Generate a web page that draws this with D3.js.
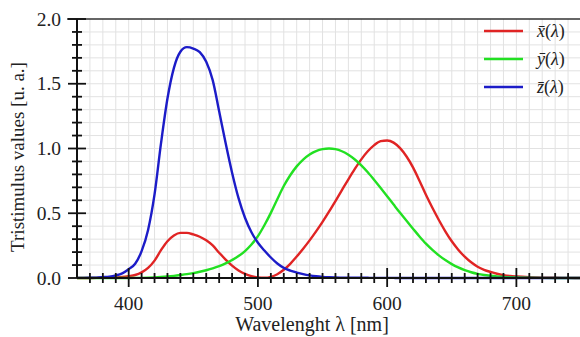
<!DOCTYPE html>
<html lang="en">
<head>
<meta charset="UTF-8">
<title>CIE 1931 colour matching functions</title>
<script src="https://d3js.org/d3.v7.min.js"></script>
<style>
  body { margin: 0; background: #fff; }
  text { font-family: "Liberation Serif", "DejaVu Serif", serif; fill: #222; }
</style>
</head>
<body>
<div id="chart"></div>
<script>
// wavelengths (nm) and the three tristimulus curves
var wavelength = [360,365,370,375,380,385,390,395,400,405,410,415,420,425,430,435,440,445,450,455,
  460,465,470,475,480,485,490,495,500,505,510,515,520,525,530,535,540,545,550,555,
  560,565,570,575,580,585,590,595,600,605,610,615,620,625,630,635,640,645,650,655,
  660,665,670,675,680,685,690,695,700,710,720,730,740,750];
var xBar = [0.0001,0.0002,0.0004,0.0007,0.0014,0.0022,0.0042,0.0076,0.0143,0.0232,0.0435,0.0776,0.1344,0.2148,0.2839,0.3285,0.3483,0.3481,0.3362,0.3187,
  0.2908,0.2511,0.1954,0.1421,0.0956,0.0580,0.0320,0.0147,0.0049,0.0024,0.0093,0.0291,0.0633,0.1096,0.1655,0.2257,0.2904,0.3597,0.4334,0.5121,
  0.5945,0.6784,0.7621,0.8425,0.9163,0.9786,1.0263,1.0567,1.0622,1.0456,1.0026,0.9384,0.8545,0.7514,0.6424,0.5419,0.4479,0.3608,0.2835,0.2187,
  0.1649,0.1212,0.0874,0.0636,0.0468,0.0329,0.0227,0.0158,0.0114,0.0058,0.0029,0.0014,0.0007,0.0003];
var yBar = [0,0,0,0,0,0.0001,0.0001,0.0002,0.0004,0.0006,0.0012,0.0022,0.0040,0.0073,0.0116,0.0168,0.0230,0.0298,0.0380,0.0480,
  0.0600,0.0739,0.0910,0.1126,0.1390,0.1693,0.2080,0.2586,0.3230,0.4073,0.5030,0.6082,0.7100,0.7932,0.8620,0.9149,0.9540,0.9803,0.9950,1.0000,
  0.9950,0.9786,0.9520,0.9154,0.8700,0.8163,0.7570,0.6949,0.6310,0.5668,0.5030,0.4412,0.3810,0.3210,0.2650,0.2170,0.1750,0.1382,0.1070,0.0816,
  0.0610,0.0446,0.0320,0.0232,0.0170,0.0119,0.0082,0.0057,0.0041,0.0021,0.0010,0.0005,0.0002,0.0001];
var zBar = [0.0006,0.0011,0.0019,0.0032,0.0065,0.0105,0.0201,0.0362,0.0679,0.1102,0.2074,0.3713,0.6456,1.0391,1.3856,1.6230,1.7471,1.7826,1.7721,1.7441,
  1.6692,1.5281,1.2876,1.0419,0.8130,0.6162,0.4652,0.3533,0.2720,0.2123,0.1582,0.1117,0.0783,0.0573,0.0422,0.0298,0.0203,0.0134,0.0088,0.0058,
  0.0039,0.0027,0.0021,0.0018,0.0017,0.0014,0.0011,0.0010,0.0008,0.0006,0.0003,0.0002,0.0002,0.0001,0.0001,0,0,0,0,0,
  0,0,0,0,0,0,0,0,0,0,0,0,0,0];

var seriesNames = ["x", "y", "z"];
var seriesColors = ["#e02424", "#22e022", "#1c1cc8"];
var xTicks = [400, 500, 600, 700];
var yTicks = [0, 0.5, 1.0, 1.5, 2.0];

var width = 580, height = 337;
var margin = {top: 19, right: -1, bottom: 59, left: 77};

var svg = d3.select("#chart").append("svg")
  .attr("width", width)
  .attr("height", height);

var x = d3.scaleLinear()
  .domain([360, 750])
  .range([margin.left, width - margin.right]);
var y = d3.scaleLinear()
  .domain([0, 2])
  .range([height - margin.bottom, margin.top]);

// light grid, every 10 nm and every 0.1
var grid = svg.append("g");
grid.selectAll("line.v")
  .data(d3.range(370, 751, 10))
  .enter().append("line")
    .attr("x1", function(d) { return x(d); })
    .attr("x2", function(d) { return x(d); })
    .attr("y1", y(2))
    .attr("y2", y(0))
    .style("stroke", "#e2e2e2")
    .style("stroke-width", 1);
grid.selectAll("line.h")
  .data(d3.range(1, 20))
  .enter().append("line")
    .attr("x1", x(360))
    .attr("x2", width)
    .attr("y1", function(d) { return y(d / 10); })
    .attr("y2", function(d) { return y(d / 10); })
    .style("stroke", "#e2e2e2")
    .style("stroke-width", 1);

// top frame line
svg.append("line")
  .attr("x1", x(360) - 10).attr("x2", width)
  .attr("y1", y(2)).attr("y2", y(2))
  .style("stroke", "#333").style("stroke-width", 1.6);

// curves
var line = d3.line()
  .x(function(d) { return x(d[0]); })
  .y(function(d) { return y(d[1]); })
  .curve(d3.curveMonotoneX);

[xBar, yBar, zBar].forEach(function(vals, i) {
  svg.append("path")
    .datum(wavelength.map(function(w, j) { return [w, vals[j]]; }))
    .attr("d", line)
    .style("fill", "none")
    .style("stroke", seriesColors[i])
    .style("stroke-width", 2.4);
});

// y axis: line, crossing ticks, labels
var yAxis = svg.append("g");
yAxis.append("line")
  .attr("x1", x(360)).attr("x2", x(360))
  .attr("y1", y(2)).attr("y2", y(0))
  .style("stroke", "#111").style("stroke-width", 2);
yAxis.selectAll("line.minor")
  .data(d3.range(0, 21))
  .enter().append("line")
    .attr("x1", function(d) { return x(360) - (d % 5 === 0 ? 9 : 5); })
    .attr("x2", function(d) { return x(360) + (d % 5 === 0 ? 9 : 5); })
    .attr("y1", function(d) { return y(d / 10); })
    .attr("y2", function(d) { return y(d / 10); })
    .style("stroke", "#111").style("stroke-width", 1.8);
yAxis.selectAll("text")
  .data(yTicks)
  .enter().append("text")
    .attr("x", x(360) - 16)
    .attr("y", function(d) { return y(d) + 6.5; })
    .attr("text-anchor", "end")
    .style("font-size", "19.5px")
    .text(function(d) { return d3.format(".1f")(d); });

// x axis
var xAxis = svg.append("g");
xAxis.append("line")
  .attr("x1", x(360)).attr("x2", width)
  .attr("y1", y(0)).attr("y2", y(0))
  .style("stroke", "#111").style("stroke-width", 2);
xAxis.selectAll("line.tick")
  .data(d3.range(370, 751, 10))
  .enter().append("line")
    .attr("x1", function(d) { return x(d); })
    .attr("x2", function(d) { return x(d); })
    .attr("y1", function(d) { return y(0) - (d % 100 === 0 ? 10 : 5); })
    .attr("y2", function(d) { return y(0) + (d % 100 === 0 ? 9 : 5); })
    .style("stroke", "#111").style("stroke-width", 1.8);
xAxis.selectAll("text")
  .data(xTicks)
  .enter().append("text")
    .attr("x", function(d) { return x(d); })
    .attr("y", y(0) + 32)
    .attr("text-anchor", "middle")
    .style("font-size", "19.5px")
    .text(function(d) { return d; });

// axis titles
svg.append("text")
  .attr("x", 312)
  .attr("y", 331)
  .attr("text-anchor", "middle")
  .style("font-size", "20px")
  .text("Wavelenght \u03bb [nm]");
svg.append("text")
  .attr("transform", "translate(24,157) rotate(-90)")
  .attr("text-anchor", "middle")
  .style("font-size", "19px")
  .text("Tristimulus values [u. a.]");

// legend
var legend = svg.append("g");
seriesNames.forEach(function(name, i) {
  var ly = 31 + i * 28;
  legend.append("line")
    .attr("x1", 484).attr("x2", 523)
    .attr("y1", ly).attr("y2", ly)
    .style("stroke", seriesColors[i]).style("stroke-width", 2.4);
  var t = legend.append("text")
    .attr("x", 537)
    .attr("y", ly + 6)
    .style("font-size", "18px");
  t.append("tspan").style("font-style", "italic").text(name + "\u0304");
  t.append("tspan").text("(");
  t.append("tspan").style("font-style", "italic").text("\u03bb");
  t.append("tspan").text(")");
});
</script>
</body>
</html>
